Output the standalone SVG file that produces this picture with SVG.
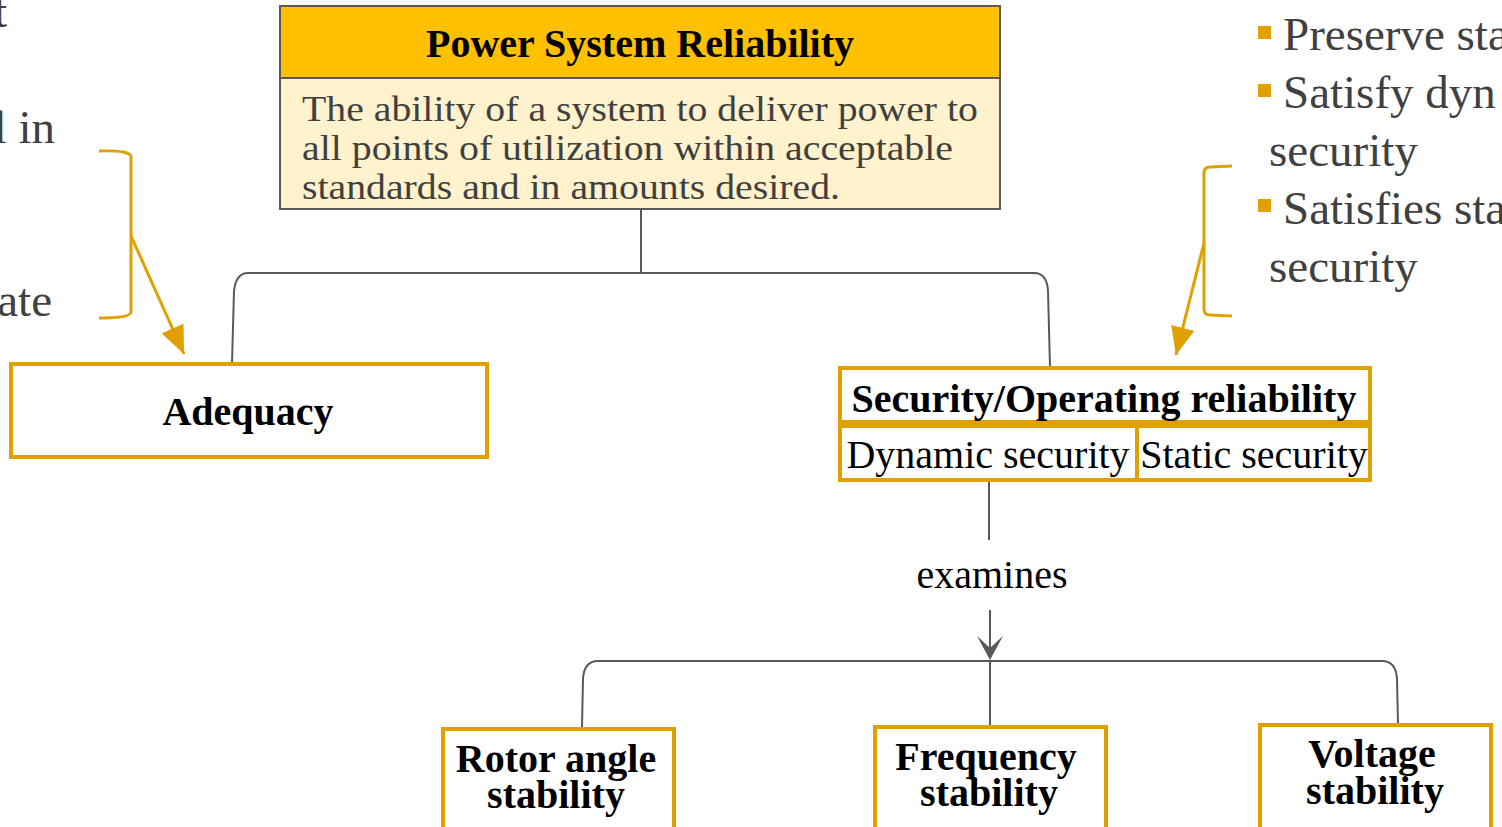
<svg xmlns="http://www.w3.org/2000/svg" width="1502" height="827" viewBox="0 0 1502 827">
  <style>
    .serif { font-family: "Liberation Serif", "Times New Roman", serif; }
    .note { font-family: "Liberation Serif", serif; font-size: 47px; fill: #404040; }
    .lbl { font-family: "Liberation Serif", serif; font-size: 40px; fill: #000; }
    .bold { font-weight: bold; }
    .obox { fill: #ffffff; stroke: #e0a100; stroke-width: 4; }
    .conn { fill: none; stroke: #595959; stroke-width: 2; }
    .brace { fill: none; stroke: #e0a100; stroke-width: 3; }
    .bullet { fill: #e0a100; }
  </style>
  <defs>
    <marker id="orangeHead" viewBox="0 0 28 24" refX="28" refY="12" markerWidth="28" markerHeight="24" markerUnits="userSpaceOnUse" orient="auto">
      <path d="M0,0 L28,12 L0,24 Z" fill="#e0a100"/>
    </marker>
  </defs>
  <rect width="1502" height="827" fill="#ffffff"/>

  <!-- side notes (partly outside the canvas) -->
  <g id="note-left">
    <text class="note" x="7" y="27" text-anchor="end">t</text>
    <text class="note" x="55" y="143" text-anchor="end">l in</text>
    <text class="note" x="52" y="316" text-anchor="end">ate</text>
    <path class="brace" d="M99,151 Q131,150 131,157 V312 Q131,318 99,318"/>
  </g>
  <g id="note-right">
    <rect class="bullet" x="1258" y="26" width="13" height="13"/>
    <rect class="bullet" x="1258" y="84" width="13" height="13"/>
    <rect class="bullet" x="1258" y="199" width="13" height="13"/>
    <text class="note" x="1283" y="50">Preserve sta</text>
    <text class="note" x="1283" y="108">Satisfy dyn</text>
    <text class="note" x="1269" y="166">security</text>
    <text class="note" x="1283" y="224">Satisfies sta</text>
    <text class="note" x="1269" y="282">security</text>
    <path class="brace" d="M1232,166 L1210,167 Q1204,167 1204,173 V309 Q1204,315 1210,315 L1232,316"/>
  </g>

  <!-- connectors -->
  <g id="connectors">
    <path class="conn" d="M641,209 V273"/>
    <path class="conn" d="M1050,367 L1048,291 Q1047,273 1034,273 H248 Q236,273 234,291 L232,363"/>
    <path class="conn" d="M989,481 V540"/>
    <path class="conn" d="M990,610 V650"/>
    <path d="M977,636 L990,660 L1003,636 L990,648 Z" fill="#595959"/>
    <path class="conn" d="M582,727 L583,679 Q584,661 598,661 H1382 Q1396,661 1397,679 L1398,724"/>
    <path class="conn" d="M990,661 V727"/>
    <text class="lbl" x="992" y="588" text-anchor="middle">examines</text>
    <path class="brace" d="M131,236 L184,354" marker-end="url(#orangeHead)"/>
    <path class="brace" d="M1204,243 L1176,355" marker-end="url(#orangeHead)"/>
  </g>

  <!-- root node -->
  <g id="node-reliability">
    <rect x="280" y="78" width="720" height="131" fill="#fff2cc" stroke="#595959" stroke-width="2"/>
    <rect x="280" y="6" width="720" height="72" fill="#ffc000" stroke="#595959" stroke-width="2"/>
    <text class="lbl bold" x="640" y="57" text-anchor="middle" font-size="39">Power System Reliability</text>
    <text class="serif" font-size="36" fill="#404040">
      <tspan x="302" y="121" textLength="676" lengthAdjust="spacingAndGlyphs">The ability of a system to deliver power to</tspan>
      <tspan x="302" y="160" textLength="651" lengthAdjust="spacingAndGlyphs">all points of utilization within acceptable</tspan>
      <tspan x="302" y="199" textLength="538" lengthAdjust="spacingAndGlyphs">standards and in amounts desired.</tspan>
    </text>
  </g>

  <g id="node-adequacy">
    <rect class="obox" x="11" y="364" width="476" height="93"/>
    <text class="lbl bold" x="248" y="425" text-anchor="middle">Adequacy</text>
  </g>

  <g id="node-security">
    <rect class="obox" x="840" y="368" width="530" height="54"/>
    <rect class="obox" x="840" y="426" width="297" height="54"/>
    <rect class="obox" x="1137" y="426" width="233" height="54"/>
    <text class="lbl bold" x="1104" y="412" text-anchor="middle">Security/Operating reliability</text>
    <text class="lbl" x="988" y="468" text-anchor="middle" font-size="39">Dynamic security</text>
    <text class="lbl" x="1254" y="468" text-anchor="middle" font-size="39">Static security</text>
  </g>

  <g id="node-rotor">
    <rect class="obox" x="443" y="729" width="231" height="110"/>
    <text class="lbl bold" text-anchor="middle"><tspan x="556" y="772">Rotor angle</tspan><tspan x="556" y="808">stability</tspan></text>
  </g>

  <g id="node-frequency">
    <rect class="obox" x="875" y="727" width="231" height="112"/>
    <text class="lbl bold" text-anchor="middle"><tspan x="986" y="770">Frequency</tspan><tspan x="989" y="806">stability</tspan></text>
  </g>

  <g id="node-voltage">
    <rect class="obox" x="1260" y="725" width="231" height="114"/>
    <text class="lbl bold" text-anchor="middle"><tspan x="1372" y="767">Voltage</tspan><tspan x="1375" y="804">stability</tspan></text>
  </g>
</svg>
